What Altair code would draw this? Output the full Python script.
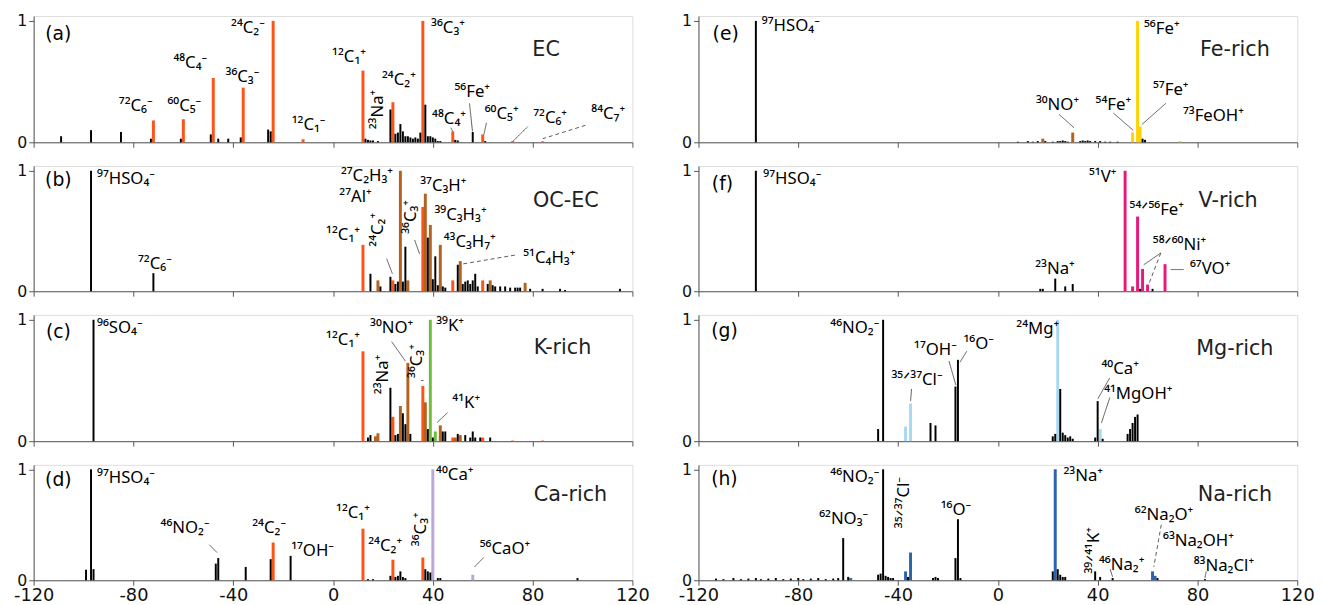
import altair as alt
import pandas as pd

# ---------------- data: m/z, relative intensity, peak class ----------------
# class codes: k=other(black) o=EC(orange) b=OC(brown) g=K c=Ca y=Fe v=V m=Mg n=Na
A_MZ = [-109, -97, -85, -73, -72, -61, -60, -49, -48, -46, -42, -37, -36, -26, -25, -24, -12,
        12, 13, 14, 15, 16, 18, 23, 24, 25, 26, 27, 28, 29, 30, 31, 32, 33, 34, 35, 36, 37,
        38, 39, 40, 41, 42, 43, 48, 49, 50, 56, 60, 61, 72, 84]
A_VAL = [0.05, 0.1, 0.085, 0.03, 0.18, 0.03, 0.19, 0.065, 0.53, 0.03, 0.03, 0.04, 0.45, 0.105, 0.09, 1.0, 0.025,
         0.59, 0.03, 0.02, 0.015, 0.015, 0.01, 0.27, 0.33, 0.07, 0.08, 0.15, 0.09, 0.05, 0.05, 0.04, 0.03, 0.04, 0.03, 0.08, 1.0, 0.31,
         0.05, 0.05, 0.04, 0.03, 0.01, 0.01, 0.09, 0.02, 0.015, 0.085, 0.065, 0.01, 0.01, 0.008]
A_CLS = ["k", "k", "k", "k", "o", "k", "o", "k", "o", "k", "k", "k", "o", "k", "k", "o", "o",
         "o", "k", "k", "k", "k", "k", "k", "o", "k", "k", "k", "k", "k", "k", "k", "k", "k", "k", "k", "o", "k",
         "k", "k", "k", "k", "k", "k", "o", "k", "k", "k", "o", "k", "o", "o"]

B_MZ = [-97, -72, 12, 15, 18, 19, 23, 24, 25, 26, 27, 28, 29, 30, 36, 37, 38, 39, 40, 41, 42, 43, 44, 45,
        48, 50, 51, 52, 53, 54, 55, 56, 57, 58, 60, 62, 63, 64, 65, 67, 69, 71, 73, 74, 75, 77, 79, 84, 91, 93, 115]
B_VAL = [1.0, 0.15, 0.385, 0.145, 0.09, 0.04, 0.12, 0.09, 0.06, 0.08, 1.0, 0.08, 0.37, 0.09, 0.7, 0.81, 0.445, 0.55, 0.1, 0.29, 0.05, 0.385, 0.04, 0.03,
         0.09, 0.22, 0.25, 0.06, 0.08, 0.09, 0.06, 0.09, 0.145, 0.04, 0.09, 0.06, 0.09, 0.05, 0.04, 0.04, 0.04, 0.03, 0.03, 0.03, 0.03, 0.07, 0.02, 0.02, 0.02, 0.01, 0.02]
B_CLS = ["k", "k", "o", "k", "b", "k", "k", "o", "k", "k", "b", "k", "k", "b", "o", "b", "k", "b", "k", "k", "k", "b", "k", "k",
         "o", "k", "b", "k", "k", "k", "k", "k", "k", "k", "o", "k", "b", "k", "k", "k", "k", "k", "k", "k", "k", "b", "k", "k", "k", "k", "k"]

C_MZ = [-96, 12, 14, 15, 17, 18, 23, 24, 25, 26, 27, 28, 29, 30, 31, 36, 37, 38, 39, 40, 41, 43, 44, 45,
        48, 49, 50, 51, 53, 55, 56, 57, 59, 60, 63, 72, 84]
C_VAL = [1.0, 0.74, 0.03, 0.05, 0.04, 0.065, 0.44, 0.2, 0.05, 0.06, 0.29, 0.23, 0.14, 0.645, 0.06, 0.455, 0.32, 0.1, 1.0, 0.03, 0.08, 0.13, 0.08, 0.08,
         0.03, 0.03, 0.06, 0.05, 0.05, 0.03, 0.08, 0.03, 0.03, 0.03, 0.03, 0.005, 0.005]
C_CLS = ["k", "o", "k", "k", "b", "b", "k", "o", "k", "k", "b", "k", "k", "b", "k", "o", "b", "k", "g", "k", "g", "b", "k", "k",
         "o", "b", "k", "b", "k", "k", "k", "k", "k", "o", "k", "o", "o"]

D_MZ = [-99, -97, -96, -47, -46, -35, -25, -24, -17, 12, 14, 16, 23, 24, 25, 26, 27, 28, 29, 36, 37, 38, 39, 40, 42, 43, 56, 98]
D_VAL = [0.095, 1.0, 0.1, 0.15, 0.2, 0.12, 0.19, 0.34, 0.22, 0.465, 0.01, 0.01, 0.04, 0.185, 0.03, 0.04, 0.08, 0.03, 0.02,
         0.205, 0.1, 0.08, 0.07, 1.0, 0.02, 0.02, 0.05, 0.02]
D_CLS = ["k", "k", "k", "k", "k", "k", "k", "o", "k", "o", "k", "k", "k", "o", "k", "k", "k", "k", "k",
         "o", "k", "k", "k", "c", "k", "k", "c", "k"]

E_MZ = [-97, 8, 12, 14, 16, 18, 19, 22, 24, 25, 26, 27, 28, 30, 33, 34, 35, 36, 37, 39, 41, 43, 45, 48, 54, 56, 57, 58, 59, 73]
E_VAL = [1.0, 0.005, 0.01, 0.005, 0.01, 0.03, 0.01, 0.005, 0.01, 0.01, 0.015, 0.01, 0.005, 0.08, 0.01, 0.015, 0.01, 0.015, 0.01,
         0.01, 0.01, 0.005, 0.005, 0.005, 0.08, 1.0, 0.13, 0.03, 0.02, 0.01]
E_CLS = ["k", "k", "k", "k", "k", "b", "k", "k", "k", "k", "k", "k", "k", "b", "k", "k", "k", "k", "k",
         "k", "k", "k", "k", "k", "y", "y", "y", "k", "k", "y"]

F_MZ = [-97, 17, 18, 23, 27, 30, 51, 54, 56, 57, 58, 60, 62, 67]
F_VAL = [1.0, 0.02, 0.02, 0.105, 0.04, 0.06, 1.0, 0.04, 0.62, 0.02, 0.185, 0.055, 0.02, 0.225]
F_CLS = ["k", "k", "k", "k", "k", "k", "v", "v", "v", "k", "v", "v", "k", "v"]

G_MZ = [-48, -46, -37, -35, -27, -25, -17, -16, 22, 23, 24, 25, 26, 27, 28, 29, 30, 39, 40, 41, 42, 52, 53, 54, 55, 56]
G_VAL = [0.1, 1.0, 0.12, 0.31, 0.15, 0.13, 0.45, 0.67, 0.04, 0.06, 1.0, 0.43, 0.07, 0.05, 0.03, 0.04, 0.02,
         0.03, 0.33, 0.1, 0.02, 0.06, 0.1, 0.15, 0.2, 0.22]
G_CLS = ["k", "k", "m", "m", "k", "k", "k", "k", "k", "k", "m", "k", "k", "k", "k", "k", "k",
         "k", "k", "m", "k", "k", "k", "k", "k", "k"]

H_MZ = [-113, -110, -106, -103, -100, -97, -95, -92, -89, -86, -83, -80, -78, -75, -72, -69, -66, -64, -62, -60, -59,
        -48, -47, -46, -45, -44, -43, -42, -37, -36, -35, -26, -25, -24, -17, -16, -15,
        22, 23, 24, 25, 26, 27, 39, 41, 46, 62, 63, 64, 83]
H_VAL = [0.015, 0.01, 0.02, 0.01, 0.015, 0.02, 0.01, 0.015, 0.02, 0.01, 0.015, 0.02, 0.01, 0.015, 0.02, 0.01, 0.015, 0.02, 0.38, 0.03, 0.02,
         0.05, 0.06, 1.0, 0.04, 0.03, 0.02, 0.02, 0.08, 0.03, 0.25, 0.02, 0.03, 0.02, 0.2, 0.55, 0.02,
         0.08, 1.0, 0.1, 0.05, 0.03, 0.03, 0.08, 0.03, 0.02, 0.08, 0.04, 0.02, 0.01]
H_CLS = ["k", "k", "k", "k", "k", "k", "k", "k", "k", "k", "k", "k", "k", "k", "k", "k", "k", "k", "k", "k", "n",
         "k", "k", "k", "k", "k", "k", "k", "n", "k", "n", "k", "k", "k", "k", "k", "k",
         "k", "n", "k", "k", "k", "k", "k", "k", "k", "n", "n", "k", "k"]

# ---------------- annotations: text, x (m/z), y (intensity), align, rotated ----------------
A_LAB = [("⁷²C₆⁻", -79.1, 0.295, "center", 0), ("⁶⁰C₅⁻", -59.6, 0.30, "center", 0), ("⁴⁸C₄⁻", -57.2, 0.65, "center", 0),
         ("³⁶C₃⁻", -36.3, 0.54, "center", 0), ("²⁴C₂⁻", -34.1, 0.945, "center", 0), ("¹²C₁⁻", -9.8, 0.146, "center", 0),
         ("¹²C₁⁺", 6.4, 0.70, "center", 0), ("²⁴C₂⁺", 26.4, 0.51, "center", 0), ("³⁶C₃⁺", 46.1, 0.945, "center", 0),
         ("⁵⁶Fe⁺", 55.8, 0.417, "center", 0), ("⁴⁸C₄⁺", 46.5, 0.19, "center", 0), ("⁶⁰C₅⁺", 67.6, 0.23, "center", 0),
         ("⁷²C₆⁺", 87.0, 0.20, "center", 0), ("⁸⁴C₇⁺", 110.3, 0.23, "center", 0), ("²³Na⁺", 18.0, 0.27, "center", 1)]
B_LAB = [("⁹⁷HSO₄⁻", -94.6, 0.93, "left", 0), ("⁷²C₆⁻", -71.4, 0.227, "center", 0), ("²⁷C₂H₃⁺", 13.6, 0.96, "center", 0),
         ("²⁷Al⁺", 9.0, 0.78, "center", 0), ("¹²C₁⁺", 4.0, 0.467, "center", 0), ("³⁷C₃H⁺", 44.2, 0.87, "center", 0),
         ("³⁹C₃H₃⁺", 51.1, 0.63, "center", 0), ("⁴³C₃H₇⁺", 54.8, 0.41, "center", 0), ("⁵¹C₄H₃⁺", 86.7, 0.276, "center", 0),
         ("²⁴C₂⁺", 18.0, 0.51, "center", 1), ("³⁶C₃⁺", 31.4, 0.617, "center", 1)]
C_LAB = [("⁹⁶SO₄⁻", -94.6, 0.93, "left", 0), ("¹²C₁⁺", 4.0, 0.836, "center", 0), ("³⁰NO⁺", 23.5, 0.93, "center", 0),
         ("³⁹K⁺", 46.9, 0.945, "center", 0), ("⁴¹K⁺", 53.4, 0.31, "center", 0),
         ("²³Na⁺", 20.2, 0.55, "center", 1), ("³⁶C₃⁺", 33.8, 0.66, "center", 1)]
D_LAB = [("⁹⁷HSO₄⁻", -94.6, 0.92, "left", 0), ("⁴⁶NO₂⁻", -59.3, 0.47, "center", 0), ("²⁴C₂⁻", -25.6, 0.47, "center", 0),
         ("¹⁷OH⁻", -8.2, 0.265, "center", 0), ("¹²C₁⁺", 8.0, 0.61, "center", 0), ("²⁴C₂⁺", 20.9, 0.31, "center", 0),
         ("⁴⁰Ca⁺", 48.8, 0.95, "center", 0), ("⁵⁶CaO⁺", 68.9, 0.28, "center", 0), ("³⁶C₃⁺", 35.4, 0.46, "center", 1)]
E_LAB = [("⁹⁷HSO₄⁻", -94.6, 0.96, "left", 0), ("³⁰NO⁺", 23.9, 0.31, "center", 0), ("⁵⁴Fe⁺", 46.3, 0.31, "center", 0),
         ("⁵⁶Fe⁺", 65.7, 0.93, "center", 0), ("⁵⁷Fe⁺", 69.3, 0.43, "center", 0), ("⁷³FeOH⁺", 86.4, 0.214, "center", 0)]
F_LAB = [("⁹⁷HSO₄⁻", -94.0, 0.93, "left", 0), ("²³Na⁺", 22.9, 0.18, "center", 0), ("⁵¹V⁺", 42.0, 0.945, "center", 0),
         ("⁵⁴ᐟ⁵⁶Fe⁺", 63.7, 0.67, "center", 0), ("⁵⁸ᐟ⁶⁰Ni⁺", 72.8, 0.385, "center", 0), ("⁶⁷VO⁺", 85.1, 0.18, "center", 0)]
G_LAB = [("⁴⁶NO₂⁻", -47.5, 0.93, "right", 0), ("¹⁷OH⁻", -25.0, 0.75, "center", 0), ("¹⁶O⁻", -7.7, 0.80, "center", 0),
         ("³⁵ᐟ³⁷Cl⁻", -32.4, 0.50, "center", 0), ("²⁴Mg⁺", 16.0, 0.92, "center", 0), ("⁴⁰Ca⁺", 49.0, 0.59, "center", 0),
         ("⁴¹MgOH⁺", 56.3, 0.39, "center", 0)]
H_LAB = [("⁴⁶NO₂⁻", -47.5, 0.93, "right", 0), ("⁶²NO₃⁻", -61.8, 0.55, "center", 0), ("¹⁶O⁻", -16.8, 0.63, "center", 0),
         ("²³Na⁺", 34.2, 0.94, "center", 0), ("⁴⁶Na₂⁺", 49.6, 0.14, "center", 0), ("⁶²Na₂O⁺", 66.6, 0.59, "center", 0),
         ("⁶³Na₂OH⁺", 80.4, 0.35, "center", 0), ("⁸³Na₂Cl⁺", 90.6, 0.13, "center", 0),
         ("³⁵ᐟ³⁷Cl⁻", -37.4, 0.70, "center", 1), ("³⁹ᐟ⁴¹K⁺", 38.5, 0.27, "center", 1)]

# leader lines: x1, y1, x2, y2, dashed
A_LEAD = [(54.7, 0.32, 55.9, 0.09, 0), (47.2, 0.12, 48.0, 0.09, 0), (61.5, 0.16, 60.5, 0.065, 0),
          (78.1, 0.13, 72.2, 0.01, 0), (101.2, 0.14, 84.1, 0.03, 1)]
B_LEAD = [(21.5, 0.27, 23.8, 0.145, 0), (32.7, 0.426, 34.7, 0.31, 0), (72.9, 0.30, 52.1, 0.227, 1)]
C_LEAD = [(23.5, 0.82, 29.0, 0.66, 0), (35.3, 0.50, 36.3, 0.50, 0), (45.9, 0.235, 41.7, 0.153, 0)]
D_LEAD = [(-49.6, 0.32, -46.5, 0.25, 0), (60.4, 0.205, 56.7, 0.12, 0)]
E_LEAD = [(24.5, 0.23, 30.5, 0.12, 0), (46.3, 0.24, 54.2, 0.10, 0), (67.3, 0.32, 57.7, 0.146, 0)]
F_LEAD = [(65.3, 0.317, 58.5, 0.22, 0), (65.3, 0.317, 60.7, 0.07, 1), (69.3, 0.18, 74.5, 0.18, 0)]
G_LEAD = [(-19.6, 0.66, -16.8, 0.46, 0), (-12.5, 0.74, -15.2, 0.65, 0), (-34.6, 0.43, -35.0, 0.33, 0),
          (44.8, 0.52, 40.1, 0.35, 0), (44.9, 0.36, 41.5, 0.15, 0)]
H_LEAD = [(65.5, 0.50, 62.5, 0.12, 1), (45.0, 0.10, 46.0, 0.03, 0), (83.5, 0.08, 83.0, 0.02, 0)]

LETTERS = ["(a)", "(b)", "(c)", "(d)", "(e)", "(f)", "(g)", "(h)"]
LETTER_POS = [(-110.1, 0.89), (-110.1, 0.92), (-110.1, 0.90), (-110.1, 0.90),
              (-109.1, 0.89), (-110.4, 0.89), (-109.6, 0.91), (-109.6, 0.91)]
NAMES = ["EC", "OC-EC", "K-rich", "Ca-rich", "Fe-rich", "V-rich", "Mg-rich", "Na-rich"]
NAME_POS = [(85.4, 0.756), (93.3, 0.75), (92.0, 0.77), (95.2, 0.77),
            (95.0, 0.756), (92.3, 0.75), (95.0, 0.76), (95.0, 0.77)]

CLS_DOMAIN = ["k", "o", "b", "g", "c", "y", "v", "m", "n"]
CLS_RANGE = ["#000000", "#FF5317", "#B5621F", "#6DBE3C", "#B9A9DA", "#FFD200", "#E9197C", "#A8D8F2", "#2E62AC"]

XTICKS = [-120, -80, -40, 0, 40, 80, 120]
ANN_FONT = "Noto Sans, DejaVu Sans"
AX_FONT = "DejaVu Sans"


def panel(mz, val, cls, labs, leads, idx, height, show_x):
    xs = alt.Scale(domain=[-120, 120], nice=False, zero=False)
    ys = alt.Scale(domain=[0, 1.04], nice=False, zero=False)
    xax = alt.Axis(values=XTICKS, labels=show_x, title=None, grid=False, labelFlush=False,
                   labelExpr="'' + datum.value", tickSize=5, labelFontSize=18, labelFont=AX_FONT,
                   labelColor="#111", domainColor="#555", tickColor="#555", labelPadding=2)
    yax = alt.Axis(values=[0, 1], format="d", title=None, grid=False, tickSize=5, labelFontSize=16,
                   labelFont=AX_FONT, labelColor="#111", domainColor="#555", tickColor="#555", labelPadding=2)
    X = alt.X("mz:Q", scale=xs, axis=xax)
    Y = alt.Y("val:Q", scale=ys, axis=yax)
    color = alt.Color("cls:N", scale=alt.Scale(domain=CLS_DOMAIN, range=CLS_RANGE), legend=None)

    df = pd.DataFrame({"mz": mz, "val": val, "cls": cls})
    layers = []
    layers.append(alt.Chart(df[df.cls != "k"]).mark_rule(strokeWidth=3).encode(
        x=X, y=Y, y2=alt.datum(0), color=color))
    layers.append(alt.Chart(df[df.cls == "k"]).mark_rule(strokeWidth=2).encode(
        x=X, y=Y, y2=alt.datum(0), color=color))

    ld = pd.DataFrame(leads, columns=["mz", "val", "mz2", "val2", "dash"])
    for d, dash in [(0, [1, 0]), (1, [4, 3])]:
        sub = ld[ld.dash == d]
        if len(sub):
            layers.append(alt.Chart(sub).mark_rule(strokeWidth=0.8, color="#333", strokeDash=dash).encode(
                x=X, y=Y, x2="mz2:Q", y2="val2:Q"))

    lb = pd.DataFrame(labs, columns=["txt", "mz", "val", "align", "rot"])
    for (al, rot), sub in lb.groupby(["align", "rot"]):
        layers.append(alt.Chart(sub).mark_text(align=al, baseline="middle", font=ANN_FONT, fontSize=17,
                                               color="#000", angle=270 if rot else 0).encode(
            x=X, y=Y, text="txt:N"))

    lx, ly = LETTER_POS[idx]
    nx, ny = NAME_POS[idx]
    layers.append(alt.Chart(pd.DataFrame({"mz": [lx], "val": [ly], "txt": [LETTERS[idx]]})).mark_text(
        align="center", baseline="middle", font=AX_FONT, fontSize=19, color="#000").encode(x=X, y=Y, text="txt:N"))
    layers.append(alt.Chart(pd.DataFrame({"mz": [nx], "val": [ny], "txt": [NAMES[idx]]})).mark_text(
        align="center", baseline="middle", font=AX_FONT, fontSize=21, color="#222").encode(x=X, y=Y, text="txt:N"))

    return alt.layer(*layers).properties(width=607, height=height)


HEIGHTS = [128, 127, 128, 117]
left = alt.vconcat(
    panel(A_MZ, A_VAL, A_CLS, A_LAB, A_LEAD, 0, HEIGHTS[0], False),
    panel(B_MZ, B_VAL, B_CLS, B_LAB, B_LEAD, 1, HEIGHTS[1], False),
    panel(C_MZ, C_VAL, C_CLS, C_LAB, C_LEAD, 2, HEIGHTS[2], False),
    panel(D_MZ, D_VAL, D_CLS, D_LAB, D_LEAD, 3, HEIGHTS[3], True),
    spacing=11)
right = alt.vconcat(
    panel(E_MZ, E_VAL, E_CLS, E_LAB, E_LEAD, 4, HEIGHTS[0], False),
    panel(F_MZ, F_VAL, F_CLS, F_LAB, F_LEAD, 5, HEIGHTS[1], False),
    panel(G_MZ, G_VAL, G_CLS, G_LAB, G_LEAD, 6, HEIGHTS[2], False),
    panel(H_MZ, H_VAL, H_CLS, H_LAB, H_LEAD, 7, HEIGHTS[3], True),
    spacing=11)

chart = alt.hconcat(left, right, spacing=28).properties(
    padding={"left": 5, "top": 0, "right": 0, "bottom": 0}
).configure_view(stroke="#777", strokeWidth=1).configure(background="white")

chart.save("out.html", embed_options={"renderer": "svg", "actions": False})
